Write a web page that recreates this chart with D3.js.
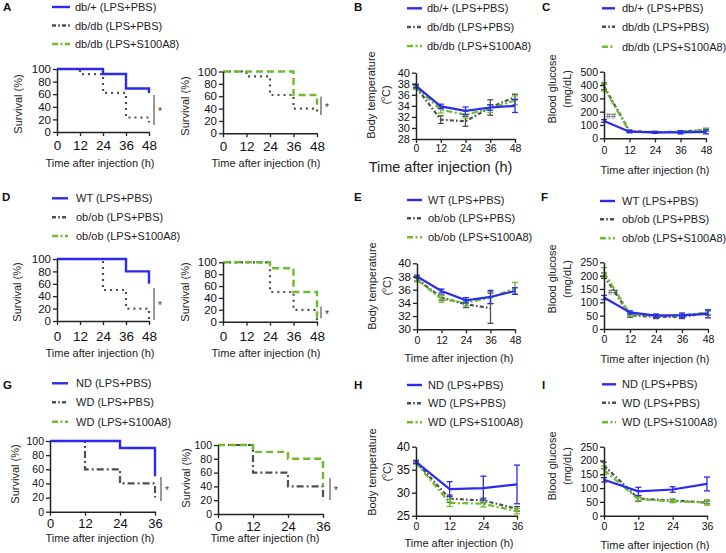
<!DOCTYPE html>
<html><head><meta charset="utf-8">
<script src="https://cdn.jsdelivr.net/npm/d3@7"></script>
<style>body{margin:0;background:#fff}svg{display:block}</style>
</head><body><svg id="c" width="726" height="553"></svg>
<script>
// ---------- data ----------
const hours48 = [0, 12, 24, 36, 48];
const hours36 = [0, 12, 24, 36];
const survTicks = [0, 20, 40, 60, 80, 100];

const legendA = ["db/+ (LPS+PBS)", "db/db (LPS+PBS)", "db/db (LPS+S100A8)"];
const legendD = ["WT (LPS+PBS)", "ob/ob (LPS+PBS)", "ob/ob (LPS+S100A8)"];
const legendG = ["ND (LPS+PBS)", "WD (LPS+PBS)", "WD (LPS+S100A8)"];

// survival (%) at each time point
const survA1Ctrl  = [100, 100, 92, 69, 62];
const survA1Obese = [100, 92, 62, 23, 15];
const survA2Obese = [100, 92, 62, 40, 29];
const survA2S100  = [100, 100, 100, 62, 46];
const survD1Ctrl  = [100, 100, 100, 80, 60];
const survD1Obese = [100, 100, 50, 20, 0];
const survD2Obese = [100, 100, 50, 20, 0];
const survD2S100  = [100, 100, 90, 50, 0];
const survG1Ctrl  = [100, 100, 90, 50];
const survG1Obese = [100, 60, 40, 20];
const survG2Obese = [100, 60, 40, 20];
const survG2S100  = [100, 90, 80, 40];

// body temperature (°C) mean / error
const tempBCtrl  = [37.6, 33.9, 33.1, 33.7, 34.0];
const tempBCtrlE = [0.3, 0.4, 0.7, 0.5, 1.2];
const tempBObese = [37.4, 31.5, 31.2, 33.7, 35.6];
const tempBObeseE= [0.3, 0.7, 0.9, 1.4, 0.5];
const tempBS100  = [37.3, 33.3, 32.4, 33.5, 35.0];
const tempBS100E = [0.3, 0.6, 0.6, 0.7, 0.8];

const tempECtrl  = [38.0, 35.8, 34.4, 34.9, 35.8];
const tempECtrlE = [0.2, 0.3, 0.4, 1.0, 0.5];
const tempEObese = [37.6, 34.8, 33.8, 33.2, null];
const tempEObeseE= [0.3, 0.4, 0.5, 2.3, null];
const tempES100  = [37.5, 34.6, 34.0, 34.8, 36.2];
const tempES100E = [0.3, 0.5, 0.4, 0.9, 0.9];

const tempHCtrl  = [36.7, 30.8, 31.0, 31.8];
const tempHCtrlE = [0.3, 1.6, 2.6, 4.2];
const tempHObese = [36.7, 28.7, 28.3, 26.5];
const tempHObeseE= [0.3, 0.8, 0.5, 0.5];
const tempHS100  = [36.5, 27.8, 27.6, 26.0];
const tempHS100E = [0.3, 0.8, 0.7, 0.6];

// blood glucose (mg/dL) mean / error
const glucCCtrl  = [130, 50, 45, 45, 48];
const glucCCtrlE = [10, 8, 8, 12, 15];
const glucCObese = [390, 55, 45, 50, 62];
const glucCObeseE= [25, 8, 5, 8, 10];
const glucCS100  = [380, 50, 45, 48, 65];
const glucCS100E = [25, 8, 5, 8, 12];

const glucFCtrl  = [118, 62, 50, 52, 57];
const glucFCtrlE = [8, 6, 6, 8, 15];
const glucFObese = [200, 52, 45, 45, 60];
const glucFObeseE= [10, 8, 6, 6, 8];
const glucFS100  = [212, 56, 50, 50, 63];
const glucFS100E = [18, 6, 5, 6, 8];

const glucICtrl  = [130, 88, 95, 115];
const glucICtrlE = [8, 15, 10, 25];
const glucIObese = [182, 62, 55, 48];
const glucIObeseE= [12, 10, 5, 5];
const glucIS100  = [165, 60, 52, 48];
const glucIS100E = [15, 6, 5, 10];

const tempTicksB = [28, 30, 32, 34, 36, 38, 40];
const tempTicksE = [30, 32, 34, 36, 38, 40];
const tempTicksH = [25, 30, 35, 40];
const glucTicksC = [0, 100, 200, 300, 400, 500];
const glucTicksF = [0, 50, 100, 150, 200, 250];

// ---------- style ----------
const FONT = "'Liberation Sans', Arial, Helvetica, sans-serif";
const COL = {blue: "#2a2af2", grey: "#4f4f4f", green: "#6cbd2b"};
const lineDash = {blue: null, grey: "4,2.2,1.6,2.2", green: "6,2.5,2,2.5"};
const svg = d3.select("#c").attr("font-family", FONT);
const keys = ["blue", "grey", "green"];

function letter(t, x, y) {
  svg.append("text").attr("x", x).attr("y", y).attr("font-weight", "bold")
    .attr("font-size", 11.5).attr("fill", "#111").text(t);
}

function legend(labels, lx0, lx1, tx, rows) {
  labels.forEach((lab, i) => {
    svg.append("line").attr("x1", lx0).attr("x2", lx1).attr("y1", rows[i]).attr("y2", rows[i])
      .attr("stroke", COL[keys[i]]).attr("stroke-width", 2.4)
      .attr("stroke-dasharray", lineDash[keys[i]]);
    svg.append("text").attr("x", tx).attr("y", rows[i]).attr("dominant-baseline", "central")
      .attr("font-size", 11).attr("fill", "#222").text(lab);
  });
}

function axes(c, x, y) {
  const gx = svg.append("g").attr("transform", `translate(0,${c.yBot})`)
    .call(d3.axisBottom(x).tickValues(c.xTicks).tickSize(4).tickSizeOuter(0).tickPadding(c.xPad));
  gx.attr("font-family", FONT).attr("font-size", c.xFont);
  const gy = svg.append("g").attr("transform", `translate(${c.x0},0)`)
    .call(d3.axisLeft(y).tickValues(c.yTicks).tickSize(4).tickSizeOuter(0).tickPadding(c.yPad || 2));
  gy.attr("font-family", FONT).attr("font-size", c.yFont);
  [gx, gy].forEach(g => {
    g.select(".domain").attr("stroke", "#222").attr("stroke-width", 1.5);
    g.selectAll(".tick line").attr("stroke", "#222").attr("stroke-width", 1.3);
    g.selectAll(".tick text").attr("fill", "#111");
  });
  svg.append("text").attr("x", c.xt[0]).attr("y", c.xt[1]).attr("text-anchor", "middle")
    .attr("dominant-baseline", "central").attr("font-size", c.xtSize || 11).attr("fill", "#222")
    .text("Time after injection (h)");
}

function survPlot(c) {
  const x = d3.scaleLinear().domain([0, c.xTicks[c.xTicks.length - 1]]).range([c.x0, c.x1]);
  const y = d3.scaleLinear().domain([0, 100]).range([c.yBot, c.yTop]);
  c.yTicks = survTicks;
  const line = d3.line().x(d => x(d[0])).y(d => y(d[1])).curve(d3.curveStepAfter);
  c.series.forEach(s => {
    svg.append("path").datum(c.xTicks.map((t, i) => [t, s.v[i]]))
      .attr("fill", "none").attr("stroke", COL[s.col]).attr("stroke-width", s.w || 2.4)
      .attr("stroke-dasharray", s.dash).attr("d", line);
  });
  axes(c, x, y);
  svg.append("text").attr("transform", `translate(${c.yt[0]},${c.yt[1]}) rotate(-90)`)
    .attr("text-anchor", "middle").attr("dominant-baseline", "central")
    .attr("font-size", 11).attr("fill", "#222").text("Survival (%)");
  svg.append("line").attr("x1", c.sig[0]).attr("x2", c.sig[0]).attr("y1", c.sig[1]).attr("y2", c.sig[2])
    .attr("stroke", "#333").attr("stroke-width", 1);
  svg.append("text").attr("x", c.sig[0] + 6).attr("y", (c.sig[1] + c.sig[2]) / 2 + 5)
    .attr("text-anchor", "middle").attr("font-size", 10).attr("fill", "#333").text("*");
}

function linePlot(c) {
  const x = d3.scaleLinear().domain([0, c.xTicks[c.xTicks.length - 1]]).range([c.x0, c.x1]);
  const y = d3.scaleLinear().domain([c.yTicks[0], c.yTicks[c.yTicks.length - 1]]).range([c.yBot, c.yTop]);
  const line = d3.line().defined(d => d[1] != null).x(d => x(d[0])).y(d => y(d[1]));
  [1, 2, 0].forEach(k => {
    const s = c.series[k];
    const pts = c.xTicks.map((t, i) => [t, s.v[i], s.e[i]]);
    svg.append("path").datum(pts).attr("fill", "none").attr("stroke", COL[keys[k]])
      .attr("stroke-width", 2.2).attr("stroke-dasharray", lineDash[keys[k]]).attr("d", line);
    const g = svg.append("g").attr("stroke", COL[keys[k]]).attr("stroke-width", 1.3);
    pts.filter(d => d[1] != null && d[2] != null).forEach(d => {
      const cx = x(d[0]), ya = y(d[1] - d[2]), yb = y(d[1] + d[2]);
      g.append("line").attr("x1", cx).attr("x2", cx).attr("y1", ya).attr("y2", yb);
      g.append("line").attr("x1", cx - 3).attr("x2", cx + 3).attr("y1", ya).attr("y2", ya);
      g.append("line").attr("x1", cx - 3).attr("x2", cx + 3).attr("y1", yb).attr("y2", yb);
    });
  });
  axes(c, x, y);
  svg.append("text").attr("transform", `translate(${c.yt[0]},${c.yt[2]}) rotate(-90)`)
    .attr("text-anchor", "middle").attr("dominant-baseline", "central")
    .attr("font-size", 11).attr("fill", "#222").text(c.kind === "temp" ? "Body temperature" : "Blood glucose");
  const t2 = svg.append("text").attr("transform", `translate(${c.yt[1]},${c.yt[2]}) rotate(-90)`)
    .attr("text-anchor", "middle").attr("dominant-baseline", "central")
    .attr("font-size", 11).attr("fill", "#222");
  if (c.kind === "temp") {
    t2.append("tspan").text("(");
    t2.append("tspan").attr("font-size", 7).attr("dy", -4).text("o");
    t2.append("tspan").attr("dy", 4).text("C)");
  } else t2.text("(mg/dL)");
  if (c.hash) svg.append("text").attr("x", c.hash[0]).attr("y", c.hash[1]).attr("font-size", 9)
    .attr("fill", "#333").text("##");
}

// ---------- panel letters ----------
letter("A", 3, 11); letter("B", 354, 11); letter("C", 542, 11);
letter("D", 2, 201); letter("E", 354, 201); letter("F", 541, 201);
letter("G", 3, 389); letter("H", 354, 389); letter("I", 542, 389);

// ---------- legends ----------
legend(legendA, 52, 70, 75, [7, 25.5, 44]);
legend(legendA, 407, 422, 427, [8.3, 27, 46]);
legend(legendA, 602, 615, 622, [8.3, 26.7, 46.7]);
legend(legendD, 52, 68, 76, [198.3, 217.3, 236]);
legend(legendD, 407, 422, 428, [200, 218.3, 237.3]);
legend(legendD, 600, 615, 622, [201, 219.3, 238.3]);
legend(legendG, 52, 68, 76, [383.3, 402.3, 421.7]);
legend(legendG, 407, 422, 428, [385, 403.3, 422.3]);
legend(legendG, 602, 616, 622, [384.3, 402.7, 422.3]);

// ---------- survival panels ----------
const DOT = "2,4", DASH = "7,4", DASHDOT = "7,3,2,3";
survPlot({x0: 57, x1: 149, yTop: 69, yBot: 132, xTicks: hours48, xFont: 13.5, yFont: 11.5, xPad: 4,
  xt: [100, 163], yt: [18, 104], sig: [154, 95, 125],
  series: [{v: survA1Obese, col: "grey", dash: DOT, w: 2.2}, {v: survA1Ctrl, col: "blue"}]});
survPlot({x0: 223, x1: 317, yTop: 71.5, yBot: 133.3, xTicks: hours48, xFont: 13.5, yFont: 11.5, xPad: 4,
  xt: [266, 163], yt: [185, 106], sig: [321, 96.7, 115],
  series: [{v: survA2Obese, col: "grey", dash: DOT, w: 2.2}, {v: survA2S100, col: "green", dash: DASH}]});
survPlot({x0: 57, x1: 149, yTop: 259, yBot: 321, xTicks: hours48, xFont: 13.5, yFont: 11.5, xPad: 6.5,
  xt: [100, 353], yt: [17, 292], sig: [154, 288, 320],
  series: [{v: survD1Obese, col: "grey", dash: DOT, w: 2.2}, {v: survD1Ctrl, col: "blue"}]});
survPlot({x0: 223, x1: 317, yTop: 262.3, yBot: 321.7, xTicks: hours48, xFont: 13.5, yFont: 11.5, xPad: 6,
  xt: [266, 353], yt: [185, 292], sig: [321, 306.7, 318.3],
  series: [{v: survD2Obese, col: "grey", dash: DOT, w: 2.2}, {v: survD2S100, col: "green", dash: DASH}]});
survPlot({x0: 50, x1: 155, yTop: 441, yBot: 511.7, xTicks: hours36, xFont: 13, yFont: 10.5, xPad: 3.5,
  xt: [100, 538.3], yt: [15, 474], sig: [161, 477, 501],
  series: [{v: survG1Obese, col: "grey", dash: DASHDOT, w: 2.2}, {v: survG1Ctrl, col: "blue"}]});
survPlot({x0: 218, x1: 323, yTop: 445, yBot: 514, xTicks: hours36, xFont: 13, yFont: 10.5, xPad: 3.5,
  xt: [265, 538.3], yt: [186, 478], sig: [330, 478, 500],
  series: [{v: survG2Obese, col: "grey", dash: DASHDOT, w: 2.2}, {v: survG2S100, col: "green", dash: DASH}]});

// ---------- line panels ----------
linePlot({kind: "temp", x0: 416, x1: 515, yTop: 72.7, yBot: 139, xTicks: hours48, yTicks: tempTicksB,
  xFont: 10.5, yFont: 11, xPad: 2, xt: [440.5, 166.7], xtSize: 14.5, yt: [371, 386, 95],
  series: [{v: tempBCtrl, e: tempBCtrlE}, {v: tempBObese, e: tempBObeseE}, {v: tempBS100, e: tempBS100E}]});
linePlot({kind: "gluc", x0: 604, x1: 706, yTop: 71.7, yBot: 138.3, xTicks: hours48, yTicks: glucTicksC,
  xFont: 10.5, yFont: 10.5, xPad: 4, xt: [655, 170], yt: [552, 567, 89], hash: [606, 119],
  series: [{v: glucCCtrl, e: glucCCtrlE}, {v: glucCObese, e: glucCObeseE}, {v: glucCS100, e: glucCS100E}]});
linePlot({kind: "temp", x0: 417, x1: 515, yTop: 263.3, yBot: 329.3, xTicks: hours48, yTicks: tempTicksE,
  xFont: 10.5, yFont: 11.5, xPad: 3, xt: [459, 357.7], yt: [372, 387, 286],
  series: [{v: tempECtrl, e: tempECtrlE}, {v: tempEObese, e: tempEObeseE}, {v: tempES100, e: tempES100E}]});
linePlot({kind: "gluc", x0: 604, x1: 708, yTop: 262.3, yBot: 329, xTicks: hours48, yTicks: glucTicksF,
  xFont: 10.5, yFont: 10.5, xPad: 3, xt: [655, 359], yt: [552, 567, 279], hash: [608, 295],
  series: [{v: glucFCtrl, e: glucFCtrlE}, {v: glucFObese, e: glucFObeseE}, {v: glucFS100, e: glucFS100E}]});
linePlot({kind: "temp", x0: 416, x1: 517, yTop: 446.7, yBot: 515.7, xTicks: hours36, yTicks: tempTicksH,
  xFont: 10.5, yFont: 12, xPad: 3, xt: [459, 543.3], yt: [372, 387, 472],
  series: [{v: tempHCtrl, e: tempHCtrlE}, {v: tempHObese, e: tempHObeseE}, {v: tempHS100, e: tempHS100E}]});
linePlot({kind: "gluc", x0: 604, x1: 707, yTop: 446.7, yBot: 515.7, xTicks: hours36, yTicks: glucTicksF,
  xFont: 10.5, yFont: 10.5, xPad: 3, xt: [655, 545], yt: [552, 567, 466],
  series: [{v: glucICtrl, e: glucICtrlE}, {v: glucIObese, e: glucIObeseE}, {v: glucIS100, e: glucIS100E}]});
</script></body></html>
